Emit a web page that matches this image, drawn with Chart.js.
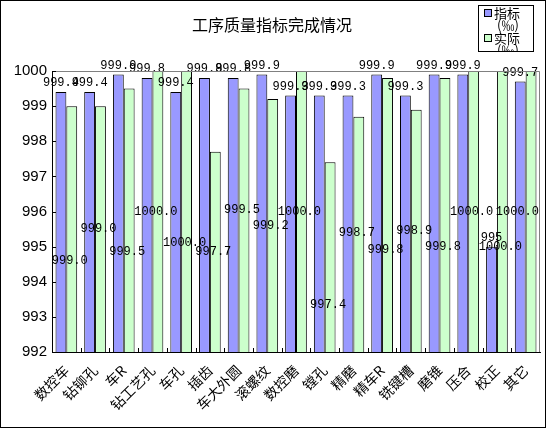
<!DOCTYPE html>
<html>
<head>
<meta charset="utf-8">
<script src="https://cdn.jsdelivr.net/npm/chart.js@4.4.0/dist/chart.umd.min.js"></script>
<style>
  html, body { margin: 0; padding: 0; background: #fff; }
  canvas { display: block; }
</style>
</head>
<body>
<canvas id="chart" width="547" height="429"></canvas>
<script>
'use strict';

////////////////////////////
/// data
const processNames = ['数控车', '钻铆孔', '车R', '钻工艺孔', '车孔', '插齿', '车大外圆', '滚螺纹',
  '数控磨', '镗孔', '精磨', '精车R', '铣键槽', '磨锥', '压合', '校正', '其它'];
const targetValues = [999.4, 999.4, 999.9, 999.8, 999.4, 999.8, 999.8, 999.9,
  999.3, 999.3, 999.3, 999.9, 999.3, 999.9, 999.9, 995, 999.7];
const actualValues = [999.0, 999.0, 999.5, 1000.0, 1000.0, 997.7, 999.5, 999.2,
  1000.0, 997.4, 998.7, 999.8, 998.9, 999.8, 1000.0, 1000.0, 1000.0];
const yTicks = [992, 993, 994, 995, 996, 997, 998, 999, 1000];
const seriesNames = ['指标(‰)', '实际(‰)'];
const chartTitle = '工序质量指标完成情况';

/// where the (hand-placed) labels of the actual series sit, in axis units
const actualLabelAt = [994.6, 995.5, 994.85, 996.0, 995.1, 994.85, 996.05, 995.6,
  996.0, 993.35, 995.4, 994.9, 995.45, 995.0, 996.0, 995.0, 996.0];

const blue = '#9999ff';
const green = '#ccffcc';

//////////////////////////////////////////////////////
/// plugins
const frameAndTitle = {
  id: 'frameAndTitle',
  beforeDraw(chart) {
    const ctx = chart.ctx;
    ctx.save();
    ctx.fillStyle = '#fff';
    ctx.fillRect(0, 0, chart.width, chart.height);
    ctx.strokeStyle = '#000';
    ctx.lineWidth = 1;
    ctx.strokeRect(0.5, 0.5, 545, 427);
    ctx.fillStyle = '#000';
    ctx.font = "16px 'Noto Sans CJK SC'";
    ctx.textAlign = 'center';
    ctx.textBaseline = 'middle';
    ctx.fillText(chartTitle, 272, 25);
    ctx.restore();
  },
  afterDraw(chart) {
    const ctx = chart.ctx;
    const a = chart.chartArea;
    const x = chart.scales.x;
    const y = chart.scales.y;
    ctx.save();
    // grey edge of the plot area
    ctx.strokeStyle = '#808080';
    ctx.lineWidth = 1;
    ctx.beginPath();
    ctx.moveTo(a.left, a.top + 0.5);
    ctx.lineTo(a.right - 0.5, a.top + 0.5);
    ctx.lineTo(a.right - 0.5, a.bottom);
    ctx.stroke();
    // inward tick marks
    ctx.strokeStyle = '#000';
    ctx.beginPath();
    yTicks.forEach((v) => {
      const py = Math.round(y.getPixelForValue(v)) + 0.5;
      ctx.moveTo(a.left, py);
      ctx.lineTo(a.left + 4, py);
    });
    for (let i = 1; i < processNames.length; i++) {
      const px = Math.round((x.getPixelForValue(i - 1) + x.getPixelForValue(i)) / 2) + 0.5;
      ctx.moveTo(px, a.bottom);
      ctx.lineTo(px, a.bottom - 4);
    }
    ctx.stroke();
    ctx.restore();
  },
};

const valueLabels = {
  id: 'valueLabels',
  afterDatasetsDraw(chart) {
    const ctx = chart.ctx;
    const y = chart.scales.y;
    const right = chart.chartArea.right - 1;
    ctx.save();
    ctx.fillStyle = '#000';
    ctx.font = "12px 'Liberation Mono'";
    ctx.textAlign = 'center';
    const fitX = (txt, cx) => {
      const half = ctx.measureText(txt).width / 2;
      return Math.min(cx, right - half);
    };
    const metaT = chart.getDatasetMeta(0);
    const metaA = chart.getDatasetMeta(1);
    ctx.textBaseline = 'alphabetic';
    metaT.data.forEach((bar, i) => {
      const v = targetValues[i];
      const txt = Number.isInteger(v) ? String(v) : v.toFixed(1);
      ctx.fillText(txt, fitX(txt, bar.x), bar.y - 6);
    });
    ctx.textBaseline = 'middle';
    metaA.data.forEach((bar, i) => {
      const txt = actualValues[i].toFixed(1);
      ctx.fillText(txt, fitX(txt, bar.x - 2), y.getPixelForValue(actualLabelAt[i]));
    });
    ctx.restore();
  },
};

const boxLegend = {
  id: 'boxLegend',
  afterDraw(chart) {
    const ctx = chart.ctx;
    const bx = 478, by = 5, bw = 55, bh = 46;
    ctx.save();
    ctx.fillStyle = '#fff';
    ctx.fillRect(bx, by, bw, bh);
    ctx.strokeStyle = '#000';
    ctx.lineWidth = 1;
    ctx.strokeRect(bx + 0.5, by + 0.5, bw, bh);
    ctx.beginPath();
    ctx.rect(bx + 1, by + 1, bw - 1, bh - 1);
    ctx.clip();
    ctx.textBaseline = 'middle';
    ctx.textAlign = 'left';
    chart.data.datasets.forEach((ds, i) => {
      const lineY = 13 + i * 25;
      ctx.fillStyle = ds.backgroundColor;
      ctx.fillRect(bx + 7, lineY - 3, 6, 6);
      ctx.strokeStyle = '#000';
      ctx.strokeRect(bx + 6.5, lineY - 3.5, 7, 7);
      ctx.fillStyle = '#000';
      ctx.font = "13px 'Noto Sans CJK SC'";
      ctx.fillText(ds.label.slice(0, 2), bx + 16, lineY);
      ctx.fillText(ds.label.slice(2), bx + 19, lineY + 12.5);
    });
    ctx.restore();
  },
};

//////////////////////////////////////////////////////
/// chart
const barStyle = {
  borderColor: '#000',
  borderWidth: 1,
  borderSkipped: false,
  categoryPercentage: 0.755,
  barPercentage: 1,
};

const chartData = {
  labels: processNames,
  datasets: [
    { label: seriesNames[0], data: targetValues, backgroundColor: blue, ...barStyle },
    { label: seriesNames[1], data: actualValues, backgroundColor: green, ...barStyle },
  ],
};

const config = {
  type: 'bar',
  data: chartData,
  options: {
    responsive: false,
    animation: false,
    devicePixelRatio: 1,
    layout: { padding: { top: 71, right: 7, left: 0, bottom: 0 } },
    plugins: {
      legend: { display: false },
      title: { display: false },
      tooltip: { enabled: false },
    },
    scales: {
      x: {
        grid: { display: false },
        border: { color: '#000', width: 1 },
        ticks: {
          color: '#000',
          font: { family: "'Noto Sans CJK SC'", size: 14 },
          minRotation: 45,
          maxRotation: 45,
          autoSkip: false,
          padding: 2,
        },
        afterFit(scale) { scale.height = 77; },
      },
      y: {
        min: 992,
        max: 1000,
        grid: { display: false, drawTicks: false },
        border: { color: '#000', width: 1 },
        ticks: {
          stepSize: 1,
          color: '#000',
          font: { family: "'Liberation Sans'", size: 15 },
          padding: 5,
          callback: (v) => String(v),
        },
        afterFit(scale) { scale.width = 52; },
      },
    },
  },
  plugins: [frameAndTitle, valueLabels, boxLegend],
};

const chart = new Chart(document.getElementById('chart'), config);
</script>
</body>
</html>
